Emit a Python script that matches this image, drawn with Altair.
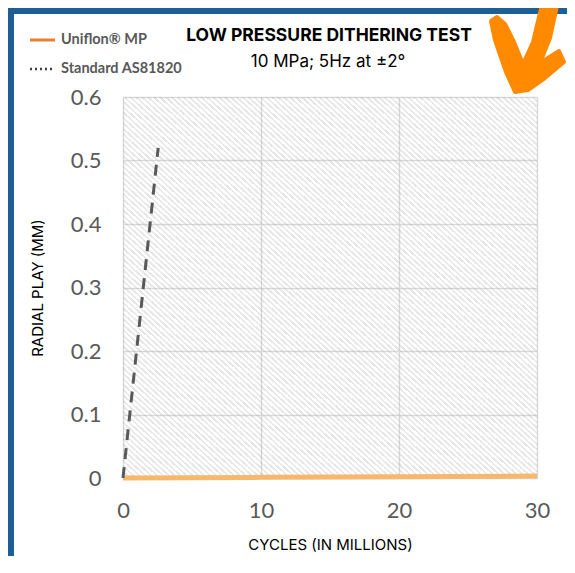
import altair as alt
import pandas as pd

# ---- data ----
cycles_uniflon = [0, 10, 20, 30]
play_uniflon = [0.0, 0.001, 0.002, 0.003]
cycles_standard = [0, 2.55]
play_standard = [0.0, 0.52]
series_names = ["Uniflon® MP", "Standard AS81820"]
x_ticks = [0, 10, 20, 30]
y_ticks = [0, 0.1, 0.2, 0.3, 0.4, 0.5, 0.6]
title_text = "LOW PRESSURE DITHERING TEST"
subtitle_text = "10 MPa; 5Hz at ±2°"
x_title = "CYCLES (IN MILLIONS)"
y_title = "RADIAL PLAY (MM)"

W, H = 414, 381
PAD = {"left": 115, "top": 89, "right": 30, "bottom": 78}

uni = pd.DataFrame({"cycles": cycles_uniflon, "play": play_uniflon})
std = pd.DataFrame({"cycles": cycles_standard, "play": play_standard})
one = pd.DataFrame({"k": [0]})

# hatch pattern via a striped, semi-transparent gradient (style only)
STRIPE = "rgba(170,170,170,0.28)"
CLEAR = "rgba(255,255,255,0)"
stops = []
N = 140
for i in range(N):
    a, b, c = i / N, (i + 0.42) / N, (i + 1) / N
    stops += [
        {"offset": a, "color": STRIPE},
        {"offset": b, "color": STRIPE},
        {"offset": b, "color": CLEAR},
        {"offset": c, "color": CLEAR},
    ]
hatch = {"gradient": "linear", "x1": 0, "y1": 1, "x2": 1, "y2": 0, "stops": stops}

label_expr = "datum.value == 0 ? '0' : format(datum.value, '.1f')"

x_enc = alt.X(
    "cycles:Q",
    scale=alt.Scale(domain=[0, 30], nice=False),
    axis=alt.Axis(
        values=x_ticks, title=x_title, ticks=False, domain=False, labelFlush=False,
        labelFont="Lato", labelFontSize=22, labelColor="#595959", labelPadding=22,
        titleFont="Inter", titleFontSize=15, titleFontWeight="normal", titleColor="#000000",
        titlePadding=16, gridColor="#d9d9d9", gridWidth=1.5,
    ),
)
y_enc = alt.Y(
    "play:Q",
    scale=alt.Scale(domain=[0, 0.6], nice=False),
    axis=alt.Axis(
        values=y_ticks, labelExpr=label_expr, title=y_title, ticks=False, domain=False,
        labelFlush=False,
        labelFont="Lato", labelFontSize=22, labelColor="#595959", labelPadding=22,
        titleFont="Inter", titleFontSize=15, titleFontWeight="normal", titleColor="#000000",
        titlePadding=25, gridColor="#d9d9d9", gridWidth=1.5,
    ),
)

hatch_rect = alt.Chart(one).mark_rect(fill=hatch, stroke=None).encode(
    x=alt.value(0), x2=alt.value(W), y=alt.value(0), y2=alt.value(H)
)
uni_line = alt.Chart(uni).mark_line(color="#F6B86C", strokeWidth=5).encode(x=x_enc, y=y_enc)
std_line = alt.Chart(std).mark_line(color="#595959", strokeWidth=3, strokeDash=[11, 8]).encode(
    x="cycles:Q", y="play:Q"
)

# title and subtitle
title_mark = alt.Chart(one).mark_text(
    text=title_text, align="center", baseline="middle", font="Inter", fontSize=17.5,
    fontWeight="bold", color="#000000",
).encode(x=alt.value(206), y=alt.value(-61))
subtitle_mark = alt.Chart(one).mark_text(
    text=subtitle_text, align="center", baseline="middle", font="Inter", fontSize=17,
    color="#000000",
).encode(x=alt.value(205), y=alt.value(-35))

# legend (manual)
leg1_line = alt.Chart(one).mark_rule(color="#ED7D31", strokeWidth=3).encode(
    x=alt.value(-93), x2=alt.value(-68), y=alt.value(-57)
)
leg2_line = alt.Chart(one).mark_rule(color="#404040", strokeWidth=2.5, strokeDash=[2, 3]).encode(
    x=alt.value(-93), x2=alt.value(-68), y=alt.value(-28)
)
leg1_text = alt.Chart(one).mark_text(
    text=series_names[0], align="left", baseline="middle", font="Lato", fontSize=14.5,
    fontWeight="bold", color="#595959",
).encode(x=alt.value(-62), y=alt.value(-57))
leg2_text = alt.Chart(one).mark_text(
    text=series_names[1], align="left", baseline="middle", font="Lato", fontSize=14.5,
    fontWeight="bold", color="#595959",
).encode(x=alt.value(-62), y=alt.value(-28))

# decorative orange brush arrow
arrow_path = (
    "M 0.383 -1.15 L 0.128 -0.085 L -0.085 0.383 L -0.277 -0.085 L -0.468 -0.468 "
    "L -0.638 -0.617 L -0.766 -0.532 L -0.681 -0.128 L -0.447 0.553 L -0.255 0.979 "
    "L 0.021 0.936 L 0.383 0.681 L 0.787 0.340 L 0.681 0.106 L 0.277 0.362 "
    "L 0.489 -0.170 L 0.702 -1.15 Z"
)
arrow = alt.Chart(one).mark_point(
    shape=arrow_path, filled=True, fill="#FF8A00", stroke="#FF8A00", strokeWidth=4,
    strokeJoin="round", opacity=1, size=8836,
).encode(x=alt.value(404), y=alt.value(-51))

# frame strips (blue page border)
frame_left = alt.Chart(one).mark_rect(color="#1D5E94").encode(
    x=alt.value(-115), x2=alt.value(-109), y=alt.value(-89), y2=alt.value(H + PAD["bottom"])
)
frame_top = alt.Chart(one).mark_rect(color="#1D5E94").encode(
    x=alt.value(-115), x2=alt.value(W + PAD["right"]), y=alt.value(-89), y2=alt.value(-83)
)

chart = (
    alt.layer(hatch_rect, uni_line, std_line, title_mark, subtitle_mark, leg1_line, leg2_line,
              leg1_text, leg2_text, frame_left, frame_top, arrow)
    .properties(
        width=W, height=H,
        autosize=alt.AutoSizeParams(type="none"),
        padding=PAD,
    )
    .configure_view(stroke=None)
    .configure(background="#ffffff")
)

chart.save("out.html", embed_options={"renderer": "svg", "actions": False})
